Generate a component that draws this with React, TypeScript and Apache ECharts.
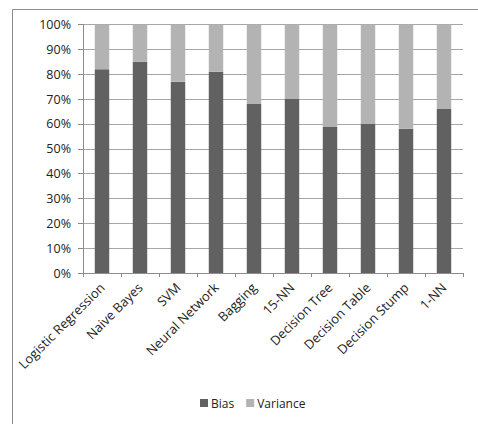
import React, { useEffect, useRef } from "react";
import * as echarts from "echarts";

const categories = [
  "Logistic Regression",
  "Naive Bayes",
  "SVM",
  "Neural Network",
  "Bagging",
  "15-NN",
  "Decision Tree",
  "Decision Table",
  "Decision Stump",
  "1-NN",
];
const bias = [82, 85, 77, 81, 68, 70, 59, 60, 58, 66];
const variance = [18, 15, 23, 19, 32, 30, 41, 40, 42, 34];

export default function App() {
  const ref = useRef<HTMLDivElement>(null);
  useEffect(() => {
    const chart = echarts.init(ref.current!, null, { renderer: "svg" });
    const font = "Open Sans";
    chart.setOption({
      animation: false,
      textStyle: { fontFamily: font },
      graphic: [
        {
          type: "rect",
          shape: { x: 12.5, y: 9.5, width: 600, height: 600 },
          style: { fill: "none", stroke: "#8a8a8a", lineWidth: 1 },
          silent: true,
        },
      ],
      grid: { left: 83, top: 24.5, right: 15, bottom: 151, containLabel: false },
      legend: {
        bottom: 10,
        left: 195,
        itemWidth: 8,
        itemHeight: 8,
        itemGap: 12,
        icon: "rect",
        textStyle: { fontSize: 12, color: "#222", fontFamily: font, padding: [0, 0, 0, -2] },
        data: ["Bias", "Variance"],
      },
      xAxis: {
        type: "category",
        data: categories,
        axisLine: { show: true, lineStyle: { color: "#8c8c8c", width: 1 } },
        axisTick: { show: true, length: 4, lineStyle: { color: "#8c8c8c" } },
        axisLabel: { rotate: 45, fontSize: 13, color: "#222", margin: 12, interval: 0 },
      },
      yAxis: {
        type: "value",
        min: 0,
        max: 100,
        interval: 10,
        axisLine: { show: true, lineStyle: { color: "#8c8c8c", width: 1 } },
        axisTick: { show: true, length: 5, lineStyle: { color: "#8c8c8c" } },
        axisLabel: { formatter: "{value}%", fontSize: 12.5, color: "#222", margin: 12 },
        splitLine: { show: true, lineStyle: { color: "#a6a6a6", width: 1 } },
      },
      series: [
        {
          name: "Bias",
          type: "bar",
          stack: "total",
          data: bias,
          barWidth: "38%",
          itemStyle: { color: "#616161" },
        },
        {
          name: "Variance",
          type: "bar",
          stack: "total",
          data: variance,
          barWidth: "38%",
          itemStyle: { color: "#b3b3b3" },
        },
      ],
    });
    return () => chart.dispose();
  }, []);
  return (
    <div
      ref={ref}
      style={{ position: "absolute", left: 0, top: 0, width: 478, height: 424, background: "#fff" }}
    />
  );
}
